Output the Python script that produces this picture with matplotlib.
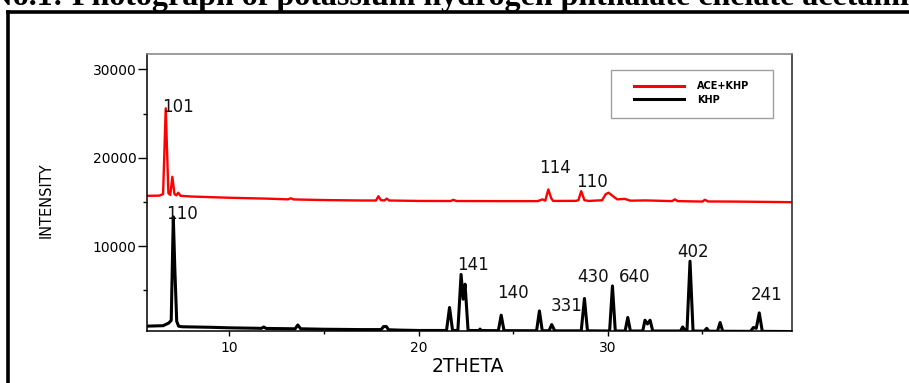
import matplotlib
matplotlib.use("Agg")
import matplotlib.pyplot as plt
from matplotlib.lines import Line2D
from matplotlib.patches import Rectangle
from matplotlib.ticker import MultipleLocator

# ACE+KHP pattern (2theta, intensity)
ace_theta = [5.65, 6.3, 6.5, 6.64, 6.78, 6.88, 6.99, 7.1, 7.2, 7.3, 7.42,
             8.0, 10.0, 12.0, 13.1, 13.25, 13.4, 15.0, 17.0, 17.75, 17.88,
             18.02, 18.2, 18.32, 18.45, 20.0, 21.7, 21.84, 22.0, 24.0, 26.3,
             26.55, 26.7, 26.86, 27.02, 27.12, 28.3, 28.45, 28.6, 28.77, 29.0,
             29.7, 29.9, 30.05, 30.25, 30.5, 30.9, 31.2, 32.0, 33.4, 33.55,
             33.7, 35.0, 35.14, 35.3, 36.5, 37.5, 39.74]
ace_int = [15700, 15720, 15900, 25600, 16000, 15800, 17850, 15900, 15750, 16050, 15700,
           15620, 15480, 15380, 15300, 15420, 15290, 15220, 15170, 15170, 15650,
           15200, 15180, 15380, 15170, 15120, 15110, 15250, 15110, 15100, 15100,
           15300, 15150, 16420, 15400, 15120, 15130, 15200, 16230, 15200, 15120,
           15200, 15900, 16050, 15700, 15300, 15350, 15150, 15180, 15100, 15300,
           15100, 15050, 15250, 15060, 15050, 15030, 14980]

# KHP pattern
khp_theta = [5.65, 6.5, 6.8, 6.93, 7.04, 7.12, 7.22, 7.32, 7.5, 9.0, 10.0,
             11.7, 11.82, 11.95, 13.48, 13.62, 13.77, 15.0, 17.0, 18.03, 18.15,
             18.3, 18.42, 19.0, 20.0, 21.48, 21.64, 21.8, 22.08, 22.25, 22.36,
             22.46, 22.62, 23.2, 23.25, 23.32, 24.22, 24.37, 24.52, 26.24, 26.39,
             26.54, 26.9, 27.04, 27.2, 28.6, 28.77, 28.93, 30.1, 30.25, 30.4,
             30.92, 31.06, 31.2, 31.85, 31.97, 32.1, 32.24, 32.38, 33.85, 33.96,
             34.1, 34.19, 34.35, 34.51, 35.1, 35.23, 35.35, 35.8, 35.94, 36.08,
             37.55, 37.7, 37.85, 38.01, 38.17, 39.74]
khp_int = [950, 1000, 1300, 1600, 13320, 7500, 1500, 950, 880, 820, 760,
           700, 850, 690, 650, 1080, 650, 600, 560, 560, 900,
           900, 540, 500, 460, 460, 3060, 460, 460, 6800, 4000,
           5700, 460, 450, 620, 450, 440, 2190, 440, 430, 2670,
           430, 430, 1130, 420, 420, 4080, 420, 400, 5500, 400,
           400, 1930, 400, 400, 1620, 1200, 1620, 400, 400, 860,
           450, 450, 8300, 400, 380, 700, 380, 370, 1360, 370,
           360, 800, 700, 2450, 360, 340]

# peak labels: text, 2theta, intensity where the label sits
ace_peaks = [("101", 7.29, 25700), ("114", 27.21, 18830), ("110", 29.15, 17280)]
khp_peaks = [("110", 7.48, 13620), ("141", 22.90, 7850), ("140", 25.0, 4710),
             ("331", 27.83, 3200), ("430", 29.21, 6460), ("640", 31.41, 6460),
             ("402", 34.52, 9350), ("241", 38.40, 4450)]

W, H = 909, 383
fig = plt.figure(figsize=(W / 100, H / 100), dpi=100)
ax = fig.add_axes([147 / W, 1 - 331 / H, 645 / W, 277 / H])

ln_ace, = ax.plot(ace_theta, ace_int, color='#ff0000', lw=1.7, label='ACE+KHP')
ln_khp, = ax.plot(khp_theta, khp_int, color='black', lw=2.2, label='KHP')

for txt, x, y in ace_peaks + khp_peaks:
    ax.text(x, y, txt, ha='center', va='center', fontsize=12, color='#111111')

ax.set_xlim(5.65, 39.74)
ax.set_ylim(400, 31750)
ax.set_xticks([10, 20, 30])
ax.set_yticks([10000, 20000, 30000])
ax.xaxis.set_minor_locator(MultipleLocator(5))
ax.yaxis.set_minor_locator(MultipleLocator(5000))
ax.tick_params(axis='y', which='major', length=6.5, width=1, pad=1, labelsize=10)
ax.tick_params(axis='y', which='minor', length=3, width=1)
ax.tick_params(axis='x', which='major', length=3.6, width=1, pad=3.6, labelsize=10)
ax.tick_params(axis='x', which='minor', length=2.2, width=1)
ax.spines['top'].set_color('#808080')
ax.spines['right'].set_color('#222222')
for s in ax.spines.values():
    s.set_linewidth(1.1)

fig.text(468 / W, 1 - 366 / H, '2THETA', ha='center', va='center', fontsize=13.5)
fig.text(46 / W, 1 - 200 / H, 'INTENSITY', rotation=90, ha='center', va='center',
         fontsize=10.5, family=['Liberation Sans Narrow', 'DejaVu Sans'])

# legend
leg = ax.legend(handles=[ln_ace, ln_khp], loc='upper left', frameon=False,
                bbox_to_anchor=(634 / W, 1 - 81 / H), bbox_transform=fig.transFigure,
                borderpad=0, borderaxespad=0, handlelength=5.1, handletextpad=1.35,
                labelspacing=0.38, prop={'size': 7, 'weight': 'bold'})
for h in leg.get_lines():
    h.set_linewidth(2.2)
fig.add_artist(Rectangle((611 / W, 1 - 118 / H), 162 / W, 48 / H, transform=fig.transFigure,
                         fill=False, edgecolor='#a0a0a0', lw=1))

# page caption cut off at the top, and outer frame
cap_y = 1 - 5.5 / H
fig.text(63 / W, cap_y, 'Fig No.1:', ha='right', va='baseline', fontsize=23,
         family='Liberation Serif', weight='bold')
fig.text(72 / W, cap_y, 'Photograph of potassium hydrogen phthalate chelate acetamide',
         ha='left', va='baseline', fontsize=23, family='Liberation Serif', weight='bold')
fy = 1 - 11.75 / H
fx = 8 / W
fig.add_artist(Line2D([fx, 1.02], [fy, fy], transform=fig.transFigure, color='black', lw=2.6))
fig.add_artist(Line2D([fx, fx], [-0.02, fy], transform=fig.transFigure, color='black', lw=2.6))

fig.savefig('out.png', dpi=100)
